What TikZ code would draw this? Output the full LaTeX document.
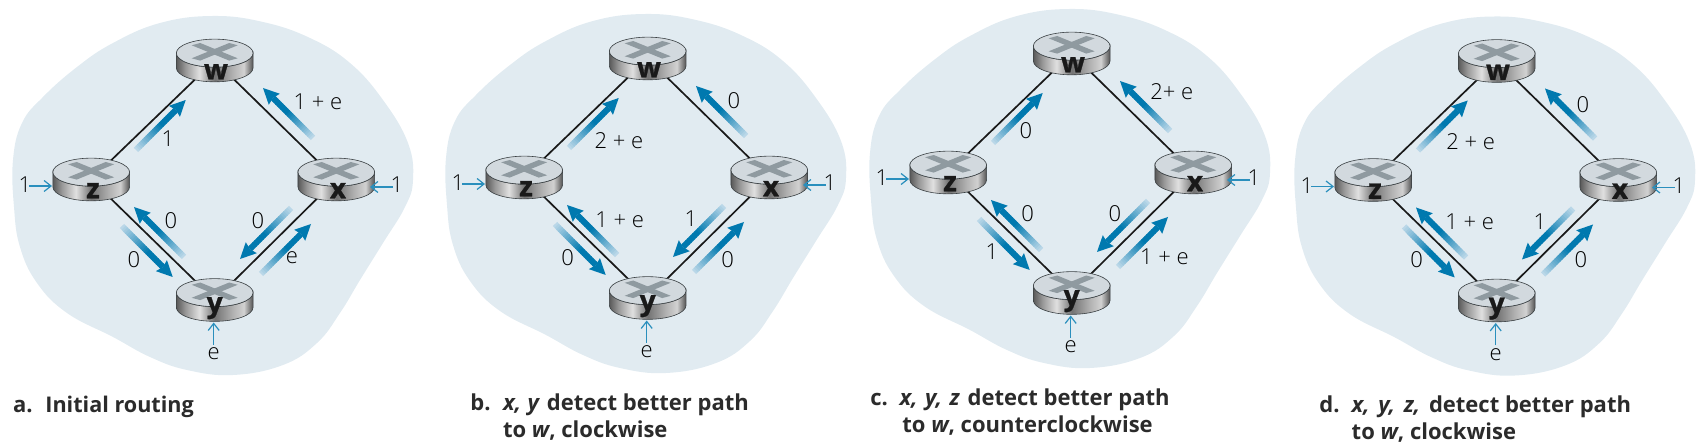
\documentclass[tikz,border=0pt]{standalone}
\usepackage{fontspec}
\setmainfont{Open Sans}
\newfontfamily\rlet[UprightFont=* Bold,FakeBold=1.0]{Open Sans}
\newfontfamily\lightf{Open Sans Light}
\usetikzlibrary{calc,shapes.geometric,arrows.meta}
\definecolor{blobc}{HTML}{E1EBF1}
\definecolor{flowdark}{HTML}{0079AF}
\definecolor{flowlight}{HTML}{BAD7E8}
\definecolor{inflow}{HTML}{2A8FBD}
\definecolor{rtop}{HTML}{D2D9DE}
\definecolor{rcross}{HTML}{8F9AA0}
\definecolor{redge}{HTML}{3A4043}
\definecolor{txt}{HTML}{2B2B2B}
\pgfdeclarehorizontalshading{rbody}{100bp}{color(0bp)=(black!70!white);color(25bp)=(black!65!white);color(31bp)=(black!40!white);color(40bp)=(black!12!white);color(50bp)=(black!55!white);color(62bp)=(black!30!white);color(69bp)=(black!18!white);color(75bp)=(black!68!white);color(100bp)=(black!70!white)}
\tikzset{
  router/.style={ellipse,minimum width=38.35pt,minimum height=21.35pt,inner sep=0pt},
  link/.style={draw=black!90,line width=0.85pt},
  lbl/.style={font=\fontsize{11pt}{12pt}\selectfont\lightf,text=black,inner sep=0pt},
  captext/.style={font=\fontsize{11pt}{13pt}\selectfont\bfseries,text=txt,inner sep=0pt,anchor=base west},
  rletter/.style={font=\fontsize{14pt}{15pt}\selectfont\rlet,text=black!90,inner sep=0pt,anchor=base},
  inarrow/.style={draw=inflow,line width=0.6pt,-{Straight Barb[length=3.5pt,width=5.5pt,line width=0.6pt]}}
}
% gradient connector from tail to tip
\newcommand\flowarrow[2]{%
  \coordinate (hb) at ($(#2)!8pt!(#1)$);
  \coordinate (nt) at ($(#2)!7pt!(#1)$);
  \foreach \i in {0,...,23}{%
    \pgfmathsetmacro\ta{\i/24}%
    \pgfmathsetmacro\tb{min((\i+1.4)/24,1)}%
    \pgfmathsetmacro\pct{min(100,(\i/24)*100/0.62)}%
    \draw[line width=3pt,draw=flowdark!\pct!flowlight] ($(#1)!\ta!(nt)$) -- ($(#1)!\tb!(nt)$);
  }%
  \fill[flowdark] (#2) -- ($(hb)!3.9pt!90:(#2)$) -- (nt) -- ($(hb)!3.9pt!-90:(#2)$) -- cycle;
}
% router body drawn over the node of that name
\newcommand\routerbody[1]{%
  \begin{scope}[shift={(#1)}]
    \path[shading=rbody,draw=redge,line width=0.3pt] (-38.35,-7.35) -- (-38.35,7.35)
       arc[start angle=180,end angle=0,x radius=38.35,y radius=14] -- (38.35,-7.35)
       arc[start angle=0,end angle=180,x radius=38.35,y radius=14] -- cycle;
    \path[fill=rtop,draw=redge,line width=0.3pt] (0,-7.35) ellipse[x radius=38.35,y radius=14];
    \begin{scope}[shift={(0,-8.7)}]
      \fill[rcross] (-23,-6.5) -- (-14.5,-8.8) -- (23,6.5) -- (14.5,8.8) -- cycle;
      \fill[rcross] (14.5,-8.8) -- (23,-6.5) -- (-14.5,8.8) -- (-23,6.5) -- cycle;
    \end{scope}
  \end{scope}
}
\newcommand\network{%
  \fill[blobc] plot[smooth cycle,tension=0.7] coordinates {(213,16) (263,22) (310,38) (350,63) (383,100) (408,143) (413,180) (405,207) (383,243) (360,280) (340,313) (317,343) (283,365) (233,375) (187,370) (150,357) (113,337) (67,313) (37,283) (20,247) (14,207) (13,160) (22,123) (43,97) (77,67) (113,43) (160,23)};
  \node[router] (w) at (214.7,60.5) {};
  \node[router] (z) at (91.2,179.5) {};
  \node[router] (x) at (336.3,179.5) {};
  \node[router] (y) at (214.7,300) {};
  \draw[link] (w) -- (z);
  \draw[link] (w) -- (x);
  \draw[link] (z) -- (y);
  \draw[link] (y) -- (x);
  \routerbody{w}\routerbody{z}\routerbody{x}\routerbody{y}
  \node[rletter] (lw) at (216,79.5) {w};
  \node[rletter] (lz) at (93,198.3) {z};
  \node[rletter] (lx) at (338,198.3) {x};
  \node[rletter] (ly) at (214.7,312.5) {y};
  \coordinate (t1) at (136,150);   \coordinate (h1) at (185.7,100);
  \coordinate (t2) at (313,138);   \coordinate (h2) at (263,88);
  \coordinate (t3) at (184,257);   \coordinate (h3) at (134,207);
  \coordinate (t4) at (122,226);   \coordinate (h4) at (172.7,277);
  \coordinate (t5) at (291,208);   \coordinate (h5) at (240,259);
  \coordinate (t6) at (261,274);   \coordinate (h6) at (311,224);
  \flowarrow{t1}{h1}\flowarrow{t2}{h2}\flowarrow{t3}{h3}\flowarrow{t4}{h4}\flowarrow{t5}{h5}\flowarrow{t6}{h6}
  \node[lbl] (il) at (25,185) {1};
  \node[lbl] (ir) at (397,185) {1};
  \node[lbl] (ib) at (213.7,354) {e};
  \coordinate (al) at (29,186);
  \coordinate (ar) at (392.5,187);
  \coordinate (ab) at (213.7,345);
  \coordinate (ez) at (52,186);
  \coordinate (ex) at (370,187);
  \coordinate (ey) at (213.7,322.5);
  \draw[inarrow] (al) -- (ez);
  \draw[inarrow] (ar) -- (ex);
  \draw[inarrow] (ab) -- (ey);
}
\begin{document}
\begin{tikzpicture}[x=0.5pt,y=-0.5pt]
\useasboundingbox (0,0) rectangle (1704,442);
\begin{scope}[name prefix=a-]
  \network
  \node[lbl] (l1) at (318,102) {1 + e};
  \node[lbl] (l2) at (168,139) {1};
  \node[lbl] (l3) at (171,221) {0};
  \node[lbl] (l4) at (134,260) {0};
  \node[lbl] (l5) at (258,221) {0};
  \node[lbl] (l6) at (292,258) {e};
\end{scope}
\begin{scope}[name prefix=b-,shift={(433,-2)}]
  \network
  \node[lbl] (l1) at (301,103) {0};
  \node[lbl] (l2) at (186,143) {2 + e};
  \node[lbl] (l3) at (186.7,222) {1 + e};
  \node[lbl] (l4) at (134.7,260) {0};
  \node[lbl] (l5) at (258,221) {1};
  \node[lbl] (l6) at (294.7,262) {0};
\end{scope}
\begin{scope}[name prefix=c-,shift={(857,-7)}]
  \network
  \node[lbl] (l1) at (314.7,99) {2+ e};
  \node[lbl] (l2) at (169,138) {0};
  \node[lbl] (l3) at (170.7,221) {0};
  \node[lbl] (l4) at (135,258.7) {1};
  \node[lbl] (l5) at (258,221) {0};
  \node[lbl] (l6) at (307.3,263.7) {1 + e};
\end{scope}
\begin{scope}[name prefix=d-,shift={(1282,0.5)}]
  \network
  \node[lbl] (l1) at (301,104) {0};
  \node[lbl] (l2) at (188.7,141) {2 + e};
  \node[lbl] (l3) at (187.7,221.7) {1 + e};
  \node[lbl] (l4) at (134.7,259) {0};
  \node[lbl] (l5) at (258,221) {1};
  \node[lbl] (l6) at (299,258.7) {0};
\end{scope}
\node[captext] (capa) at (12.7,412.7) {a.};
\node[captext] (capat) at (45,412.7) {\fontsize{10.8pt}{13pt}\selectfont Initial routing};
\node[captext] (capb) at (470,410.7) {b.};
\node[captext] (capbt) at (502.7,410.7) {\textit{x,\hspace{0.5pt} y}\hspace{0.5pt} detect better path};
\node[captext] (capbu) at (502.7,438) {to \textit{w}, clockwise};
\node[captext] (capc) at (870,405.7) {c.};
\node[captext] (capct) at (899.3,405.7) {\textit{x,\hspace{1pt} y,\hspace{1pt} z}\hspace{1pt} detect better path};
\node[captext] (capcu) at (902,432.7) {to \textit{w}, counterclockwise};
\node[captext] (capd) at (1319,413) {d.};
\node[captext] (capdt) at (1351.3,413) {\textit{x,\hspace{1.6pt} y,\hspace{1.6pt} z,}\hspace{1.6pt} detect better path};
\node[captext] (capdu) at (1351.3,440) {to \textit{w}, clockwise};
\end{tikzpicture}
\end{document}
